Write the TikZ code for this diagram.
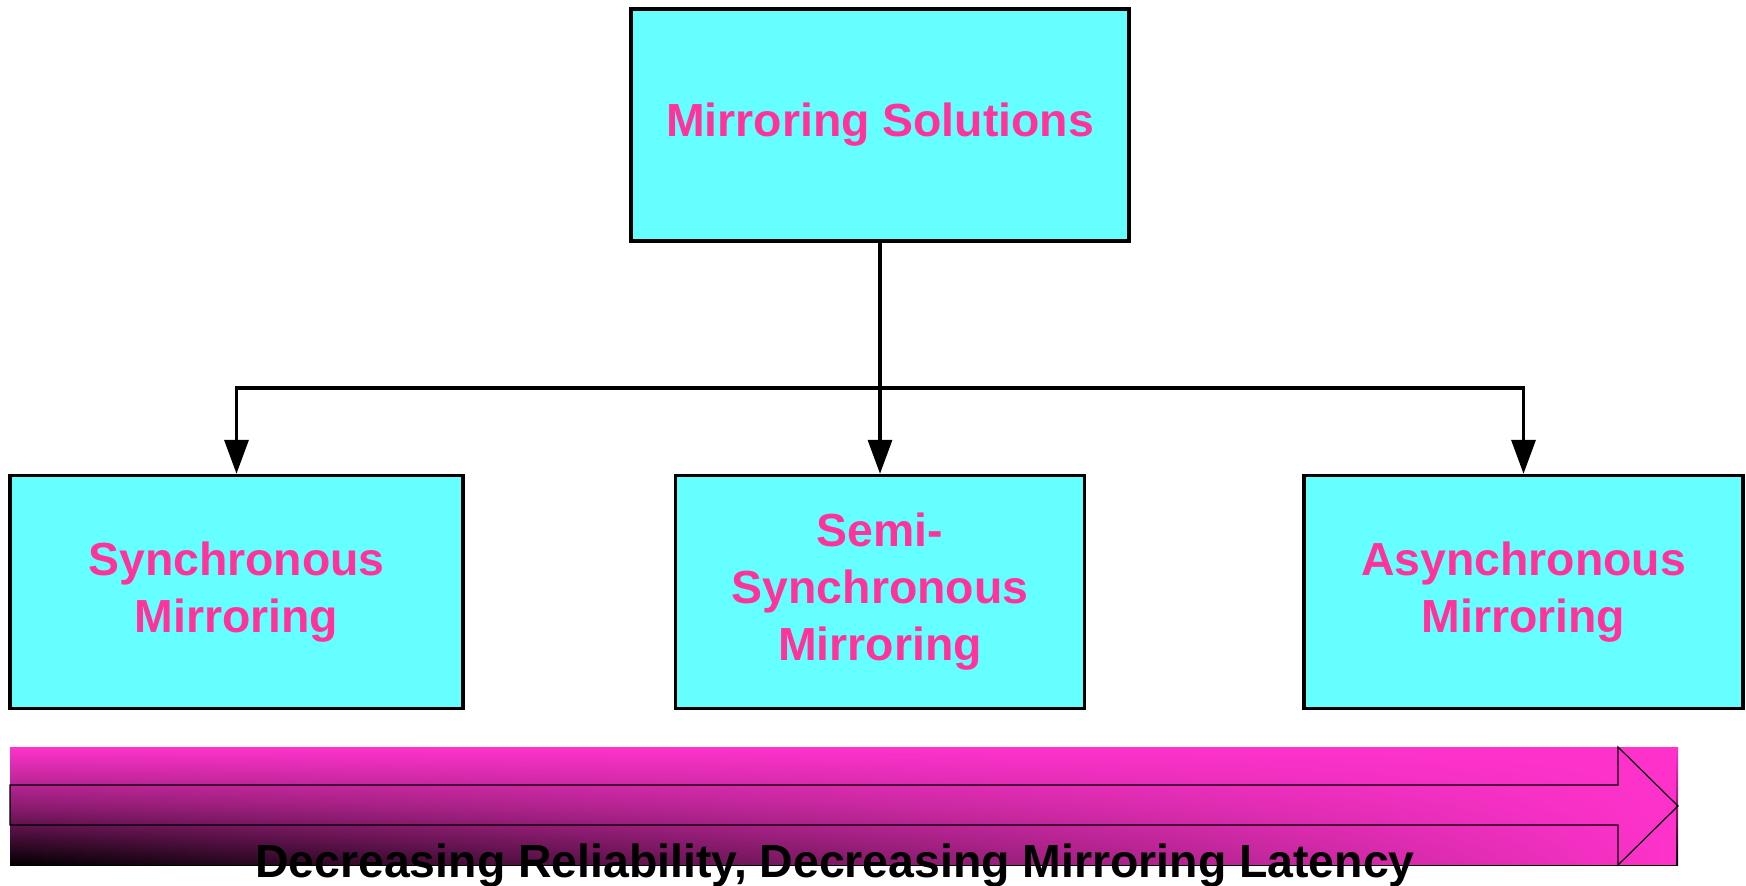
\documentclass[tikz,border=0pt]{standalone}
\usepackage{fontspec}
\setmainfont{Liberation Sans}
\usepackage{tikz}
\usetikzlibrary{arrows.meta}
\usetikzlibrary{fadings}
\definecolor{boxcyan}{HTML}{66FFFF}
\definecolor{textpink}{HTML}{FF3399}
\definecolor{barpink}{HTML}{FF33CC}
\tikzfading[name=towardright, left color=transparent!100, middle color=transparent!70, right color=transparent!0]
\newcommand{\labelfont}{\fontsize{23.2}{28.5}\selectfont\bfseries}

\begin{document}
\begin{tikzpicture}[x=0.5pt, y=-0.5pt,
    mbox/.style={draw=black, line width=1.7pt, fill=boxcyan, text=textpink,
        font=\labelfont, align=center, inner sep=0pt},
    link/.style={line width=1.7pt},
    arr/.style={link, -{Triangle[length=17pt, width=12pt]}}]
        \useasboundingbox (0,0) rectangle (1746,885);
        % top
        \node[mbox, minimum width=249pt, minimum height=116pt] (solutions) at (880,125) {Mirroring Solutions};
        % row of kinds
        \node[mbox, minimum width=226.5pt, minimum height=116.5pt] (sync) at (236.5,592) {Synchronous\\Mirroring};
        \node[mbox, minimum width=204.5pt, minimum height=116.5pt] (semi) at (880,592) {Semi-\\Synchronous\\Mirroring};
        \node[mbox, minimum width=219.5pt, minimum height=116.5pt] (async) at (1523.5,592) {Asynchronous\\Mirroring};
        % links
        \coordinate (split) at (880,388);
        \draw[link] (solutions.south) -- (split);
        \draw[arr] (split) -| (sync.north);
        \draw[arr] (split) -- (semi.north);
        \draw[arr] (split) -| (async.north);
        % bar
        \shade[top color=barpink, bottom color=black, middle color=barpink!55!black] (10,747) rectangle (1678,865);
        \fill[barpink, path fading=towardright] (10,747) rectangle (1678,865);
        \draw[line width=0.6pt] (10,785) -- (1618,785) -- (1618,747) -- (1678,806)
            -- (1618,865) -- (1618,825) -- (10,825) -- cycle;
        \node[anchor=base, font=\labelfont, inner sep=0pt] (trend) at (835,877)
            {Decreasing Reliability, Decreasing Mirroring Latency};
    \end{tikzpicture}
\end{document}
